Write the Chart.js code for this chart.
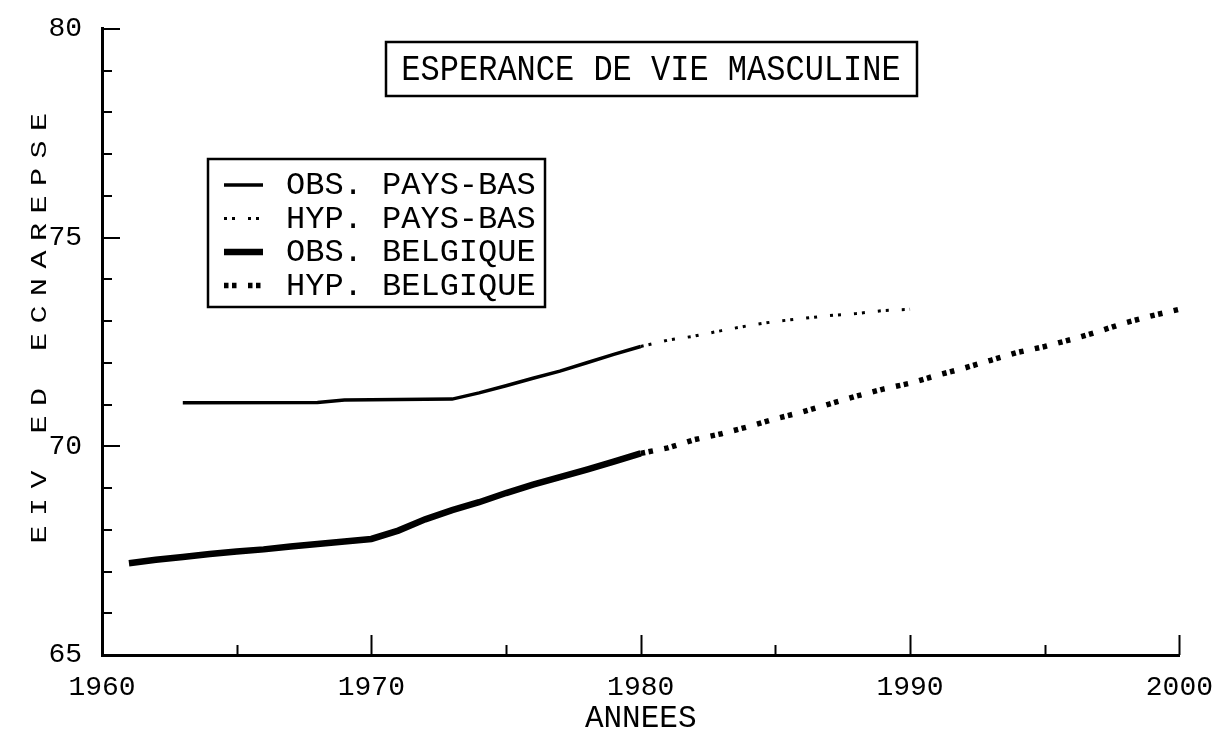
<!DOCTYPE html>
<html>
<head>
<meta charset="utf-8">
<script src="https://cdn.jsdelivr.net/npm/chart.js@4.4.1/dist/chart.umd.min.js"></script>
<style>
    html, body { margin: 0; padding: 0; background: #fff; }
    #wrap { width: 1221px; height: 752px; position: relative; }
</style>
</head>
<body>
<div id="wrap"><canvas id="lifeChart"></canvas></div>
<script>
const chartTitle = 'ESPERANCE DE VIE MASCULINE';
const xTitle = 'ANNEES';
const yTitle = 'ESPERANCE DE VIE';
const seriesLabels = ['OBS. PAYS-BAS', 'HYP. PAYS-BAS', 'OBS. BELGIQUE', 'HYP. BELGIQUE'];

const xTicks = [1960, 1970, 1980, 1990, 2000];
const yTicks = [65, 70, 75, 80];

// observed, Netherlands
const obsNlYears = [1963, 1968, 1969, 1973, 1974, 1975, 1976, 1977, 1978, 1979, 1980];
const obsNlValues = [71.04, 71.05, 71.11, 71.13, 71.28, 71.45, 71.63, 71.80, 72.00, 72.20, 72.39];

// hypothesis, Netherlands
const hypNlYears = [1980, 1981, 1982, 1983, 1984, 1985, 1986, 1987, 1988, 1989, 1990];
const hypNlValues = [72.39, 72.54, 72.64, 72.77, 72.89, 72.99, 73.06, 73.13, 73.18, 73.25, 73.28];

// observed, Belgium
const obsBeYears = [1961, 1962, 1963, 1964, 1965, 1966, 1967, 1968, 1969, 1970,
                    1971, 1972, 1973, 1974, 1975, 1976, 1977, 1978, 1979, 1980];
const obsBeValues = [67.20, 67.28, 67.35, 67.42, 67.48, 67.53, 67.60, 67.66, 67.72, 67.78,
                     67.98, 68.25, 68.47, 68.66, 68.88, 69.08, 69.26, 69.44, 69.63, 69.83];

// hypothesis, Belgium
const hypBeYears = [1980, 1981, 1982, 1983, 1984, 1985, 1986, 1987, 1988, 1989, 1990,
                    1991, 1992, 1993, 1994, 1995, 1996, 1997, 1998, 1999, 2000];
const hypBeValues = [69.83, 69.96, 70.16, 70.30, 70.47, 70.66, 70.82, 71.01, 71.20, 71.37, 71.51,
                     71.70, 71.87, 72.06, 72.25, 72.39, 72.56, 72.75, 72.96, 73.13, 73.28];

const FONT = "'Liberation Mono', 'DejaVu Sans Mono', monospace";

function toPoints(xs, ys) {
    return xs.map((x, i) => ({ x: x, y: ys[i] }));
}

// text drawn a bit taller than wide, like the plotter lettering
function tallText(ctx, text, x, y, size, stretch) {
    ctx.save();
    ctx.translate(x, y);
    ctx.scale(1, stretch);
    ctx.font = size + 'px ' + FONT;
    ctx.fillText(text, 0, 0);
    ctx.restore();
}

const plotterDecor = {
    id: 'plotterDecor',
    afterDraw(chart) {
        const ctx = chart.ctx;
        const xs = chart.scales.x;
        const ys = chart.scales.y;
        const area = chart.chartArea;

        ctx.save();
        ctx.strokeStyle = '#000';
        ctx.fillStyle = '#000';
        ctx.setLineDash([]);

        // inward ticks on both axes
        ctx.lineWidth = 2;
        for (let v = xs.min; v <= xs.max; v += 5) {
            const px = Math.round(xs.getPixelForValue(v)) + 0.5;
            const len = v % 10 === 0 ? 20 : 10;
            ctx.beginPath();
            ctx.moveTo(px, area.bottom);
            ctx.lineTo(px, area.bottom - len);
            ctx.stroke();
        }
        for (let v = ys.min; v <= ys.max; v += 1) {
            const py = Math.round(ys.getPixelForValue(v));
            const len = v % 5 === 0 ? 18 : 10;
            ctx.beginPath();
            ctx.moveTo(area.left, py);
            ctx.lineTo(area.left + len, py);
            ctx.stroke();
        }

        // y axis title: letters turned, stacked top to bottom
        ctx.font = '30px ' + FONT;
        ctx.textAlign = 'center';
        ctx.textBaseline = 'middle';
        [...yTitle].forEach((ch, i) => {
            ctx.save();
            ctx.translate(40, 122 + i * 27.5);
            ctx.rotate(-Math.PI / 2);
            ctx.scale(1, 0.72);
            ctx.fillText(ch, 0, 0);
            ctx.restore();
        });

        // boxed title
        ctx.lineWidth = 2.5;
        ctx.strokeRect(386, 42, 531, 54);
        ctx.textAlign = 'center';
        ctx.textBaseline = 'middle';
        tallText(ctx, chartTitle, 651, 70, 32, 1.15);

        // boxed legend
        ctx.lineWidth = 2.5;
        ctx.strokeRect(208, 159, 337, 148);
        chart.data.datasets.forEach((ds, i) => {
            const y = 185 + i * 33.5;
            ctx.save();
            ctx.lineWidth = ds.borderWidth;
            ctx.setLineDash(ds.borderDash || []);
            ctx.beginPath();
            ctx.moveTo(224, y);
            ctx.lineTo(263, y);
            ctx.stroke();
            ctx.restore();
            ctx.textAlign = 'left';
            ctx.textBaseline = 'middle';
            tallText(ctx, ds.label, 286, y + 1, 32, 1.0);
        });

        ctx.restore();
    }
};

const ctx = document.getElementById('lifeChart');

const lifeChart = new Chart(ctx, {
    type: 'line',
    data: {
        datasets: [
            {
                label: seriesLabels[0],
                data: toPoints(obsNlYears, obsNlValues),
                borderColor: '#000',
                borderWidth: 3.5,
                pointRadius: 0,
                tension: 0
            },
            {
                label: seriesLabels[1],
                data: toPoints(hypNlYears, hypNlValues),
                borderColor: '#000',
                borderWidth: 3,
                borderDash: [3, 5, 3, 13],
                pointRadius: 0,
                tension: 0
            },
            {
                label: seriesLabels[2],
                data: toPoints(obsBeYears, obsBeValues),
                borderColor: '#000',
                borderWidth: 6.5,
                pointRadius: 0,
                tension: 0
            },
            {
                label: seriesLabels[3],
                data: toPoints(hypBeYears, hypBeValues),
                borderColor: '#000',
                borderWidth: 5.5,
                borderDash: [4.5, 3.5, 4.5, 11.5],
                pointRadius: 0,
                tension: 0
            }
        ]
    },
    options: {
        responsive: true,
        maintainAspectRatio: false,
        animation: false,
        devicePixelRatio: 1,
        layout: {
            padding: { top: 24, right: 37, left: 0, bottom: 0 }
        },
        plugins: {
            legend: { display: false },
            title: { display: false },
            tooltip: { enabled: false }
        },
        scales: {
            x: {
                type: 'linear',
                min: xTicks[0],
                max: xTicks[xTicks.length - 1],
                afterBuildTicks: (scale) => {
                    scale.ticks = xTicks.map(v => ({ value: v }));
                },
                afterFit: (scale) => { scale.height = 97; },
                grid: { display: false },
                border: { display: true, color: '#000', width: 3 },
                ticks: {
                    color: '#000',
                    font: { family: FONT, size: 28 },
                    padding: 8,
                    maxRotation: 0,
                    autoSkip: false,
                    callback: (v) => String(v)
                },
                title: {
                    display: true,
                    text: xTitle,
                    color: '#000',
                    font: { family: FONT, size: 31 },
                    padding: { top: 0, bottom: 15 }
                }
            },
            y: {
                min: yTicks[0],
                max: yTicks[yTicks.length - 1],
                afterBuildTicks: (scale) => {
                    scale.ticks = yTicks.map(v => ({ value: v }));
                },
                afterFit: (scale) => { scale.width = 102; },
                grid: { display: false },
                border: { display: true, color: '#000', width: 3 },
                ticks: {
                    color: '#000',
                    font: { family: FONT, size: 28 },
                    padding: 12,
                    autoSkip: false,
                    callback: (v) => String(v)
                }
            }
        }
    },
    plugins: [plotterDecor]
});
</script>
</body>
</html>
